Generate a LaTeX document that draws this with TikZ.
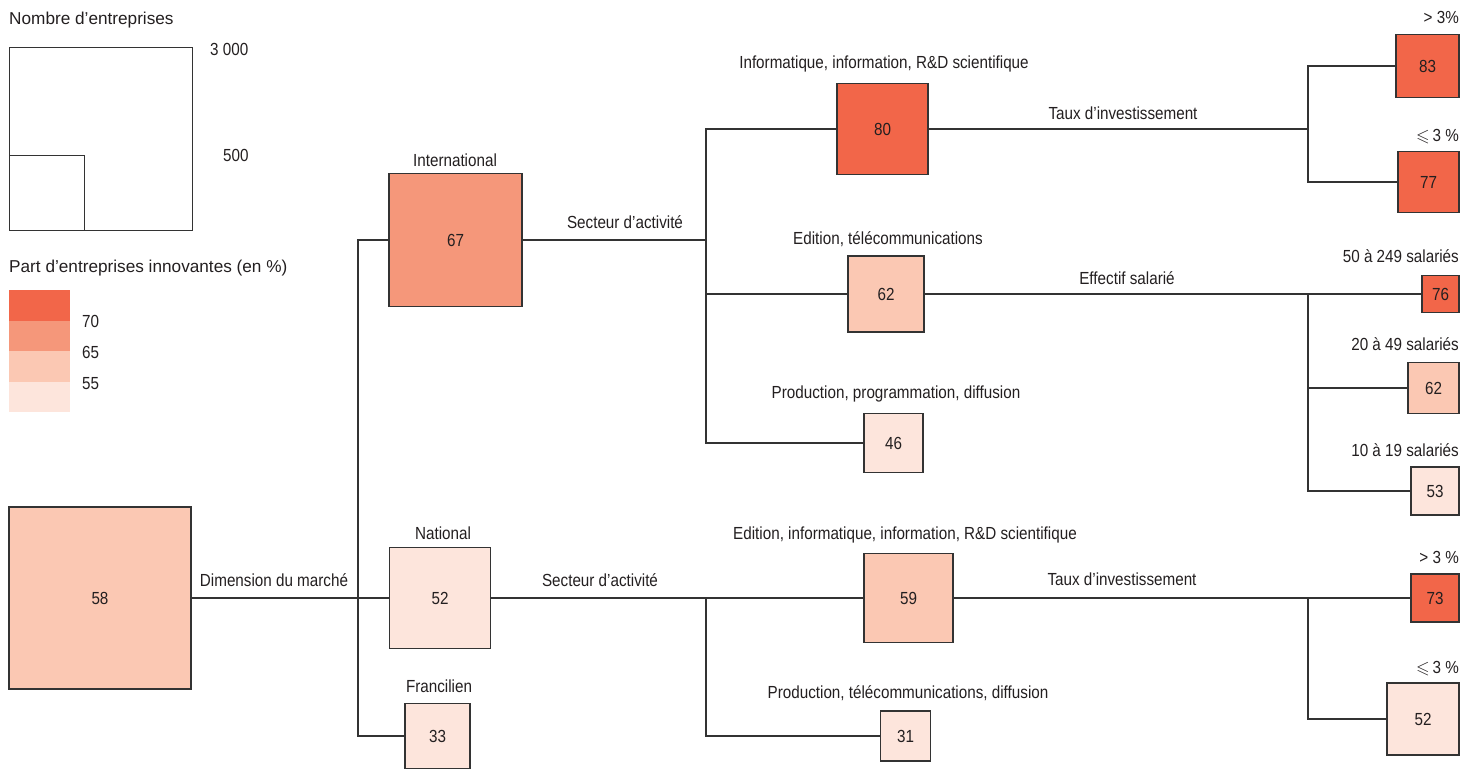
\documentclass[tikz,border=0pt]{standalone}
\usepackage{amssymb}
\usepackage{fontspec}
\setmainfont{Liberation Sans}
\newfontfamily\nfont{Liberation Sans}[FakeStretch=0.87]
\definecolor{cA}{HTML}{F26649}
\definecolor{cB}{HTML}{F5977A}
\definecolor{cC}{HTML}{FBC8B3}
\definecolor{cD}{HTML}{FDE5DC}
\definecolor{linec}{HTML}{333333}
\definecolor{txt}{HTML}{231F20}
\begin{document}
\begin{tikzpicture}[x=1pt,y=-1pt,
  box/.style={draw=linec, line width=1.2pt, inner sep=0pt, minimum width=#1, minimum height=#1, font=\nfont\fontsize{17.5}{20}\selectfont, text=txt},
  lbl/.style={inner sep=0pt, text=txt, font=\nfont\fontsize{17.5}{20}\selectfont, text height=12.6pt, text depth=0pt},
  rlbl/.style={lbl, anchor=east},
  ttl/.style={inner sep=0pt, text=txt, font=\fontsize{17.2}{20}\selectfont, text height=12.3pt, text depth=0pt, anchor=west},
  legsq/.style={draw=linec, line width=1.2pt, inner sep=0pt, minimum size=#1},
  legbar/.style={inner sep=0pt, minimum width=61, minimum height=30.5, anchor=north west},
  conn/.style={draw=linec, line width=1.2pt}]
\useasboundingbox (0,0) rectangle (1477,769);

% ---- legend: size
\node[ttl] (tNb) at (9,18) {Nombre d’entreprises};
\node[legsq=183, anchor=north west] (lgBig) at (9,47) {};
\node[legsq=75, anchor=south west] (lgSmall) at (lgBig.south west) {};
\node[lbl, anchor=west] (l3000) at (210,49) {3 000};
\node[lbl, anchor=west] (l500) at (223,155) {500};

% ---- legend: colours
\node[ttl] (tPart) at (9,266.5) {Part d’entreprises innovantes (en \%)};
\node[legbar, fill=cA] (bA) at (9,290) {};
\node[legbar, fill=cB] (bB) at (9,320.5) {};
\node[legbar, fill=cC] (bC) at (9,351) {};
\node[legbar, fill=cD] (bD) at (9,381.5) {};
\node[lbl, anchor=west] (l70) at (82,321) {70};
\node[lbl, anchor=west] (l65) at (82,352) {65};
\node[lbl, anchor=west] (l55) at (82,383) {55};

% ---- boxes
\node[box=182, fill=cC] (n58) at (100,598) {58};
\node[box=133, fill=cB] (nInt) at (455.5,240) {67};
\node[box=101, fill=cD] (nNat) at (440,598) {52};
\node[box=65, fill=cD] (nFra) at (437.5,736) {33};
\node[box=91, fill=cA] (nInf) at (882.5,129) {80};
\node[box=76, fill=cC] (nEdT) at (886,294) {62};
\node[box=59, fill=cD] (nPPD) at (893.5,443) {46};
\node[box=89, fill=cC] (nEIR) at (908.5,598) {59};
\node[box=50, fill=cD] (nPTD) at (905.5,736) {31};
\node[box=63, fill=cA] (n83) at (1427.5,66) {83};
\node[box=61, fill=cA] (n77) at (1428.5,182) {77};
\node[box=37, fill=cA] (n76) at (1440.5,294) {76};
\node[box=51, fill=cC] (n62b) at (1433.5,388) {62};
\node[box=48, fill=cD] (n53) at (1435,491) {53};
\node[box=48, fill=cA] (n73) at (1435,598) {73};
\node[box=72, fill=cD] (n52b) at (1423,719) {52};

% ---- labels
\node[lbl] (dDim) at (274,580) {Dimension du marché};
\node[lbl] (dInt) at (455,160) {International};
\node[lbl] (dNat) at (443,533) {National};
\node[lbl] (dFra) at (439,686) {Francilien};
\node[lbl] (dSec1) at (625,222) {Secteur d’activité};
\node[lbl] (dSec2) at (600,580) {Secteur d’activité};
\node[lbl] (dInf) at (884,62) {Informatique, information, R\&D scientifique};
\node[lbl] (dEdT) at (888,238) {Edition, télécommunications};
\node[lbl] (dPPD) at (896,392) {Production, programmation, diffusion};
\node[lbl] (dEIR) at (905,533) {Edition, informatique, information, R\&D scientifique};
\node[lbl] (dPTD) at (908,692) {Production, télécommunications, diffusion};
\node[lbl] (dTx1) at (1123,113) {Taux d’investissement};
\node[lbl] (dTx2) at (1122,579) {Taux d’investissement};
\node[lbl] (dEff) at (1127,278) {Effectif salarié};
\node[rlbl] (r83) at (1459,17) {> 3\%};
\node[rlbl] (r77) at (1459,135) {$\leqslant$\,3 \%};
\node[rlbl] (r76) at (1459,256) {50 à 249 salariés};
\node[rlbl] (r62) at (1459,344) {20 à 49 salariés};
\node[rlbl] (r53) at (1459,450) {10 à 19 salariés};
\node[rlbl] (r73) at (1459,557) {> 3 \%};
\node[rlbl] (r52) at (1459,667) {$\leqslant$\,3 \%};

% ---- bus coordinates
\coordinate (b1b) at (358,736);
\coordinate (j2) at (706,240);
\coordinate (b2b) at (706,443);
\coordinate (j2e) at (706,294);
\coordinate (j3) at (1308,129);
\coordinate (b3b) at (1308,182);
\coordinate (b4t) at (1308,294);
\coordinate (b4m) at (1308,388);
\coordinate (b4b) at (1308,491);
\coordinate (b5t) at (706,598);
\coordinate (b6t) at (1308,598);

% ---- connectors
\draw[conn] (n58) -- (nNat);
\draw[conn] (nInt.west) -| (b1b) -- (nFra.west);
\draw[conn] (nInt.east) -- (j2);
\draw[conn] (nInf.west) -| (b2b) -- (nPPD.west);
\draw[conn] (j2e) -- (nEdT.west);
\draw[conn] (nInf.east) -- (j3);
\draw[conn] (n83.west) -| (b3b) -- (n77.west);
\draw[conn] (nEdT) -- (n76);
\draw[conn] (b4t) -- (b4b) -- (n53.west);
\draw[conn] (b4m) -- (n62b.west);
\draw[conn] (nNat) -- (nEIR);
\draw[conn] (b5t) |- (nPTD.west);
\draw[conn] (nEIR) -- (n73);
\draw[conn] (b6t) |- (n52b.west);
\end{tikzpicture}
\end{document}
